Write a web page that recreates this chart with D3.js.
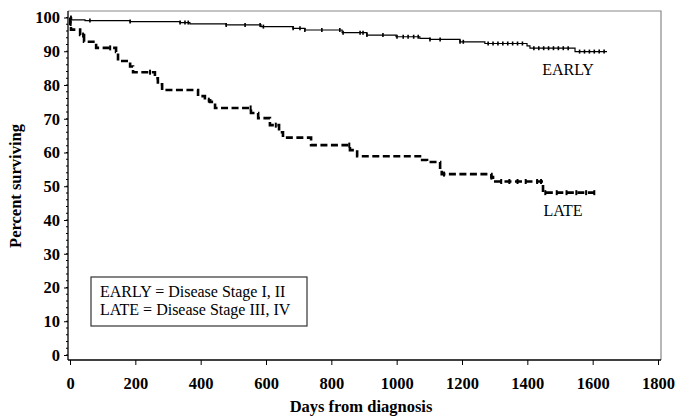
<!DOCTYPE html>
<html>
<head>
<meta charset="utf-8">
<script src="https://cdn.jsdelivr.net/npm/d3@7"></script>
<style>
body { margin: 0; background: #fff; }
svg { display: block; font-family: "Liberation Serif", "Times New Roman", serif; }
</style>
</head>
<body>
<div class="chart"></div>
<script>
// Kaplan-Meier steps (day where the step starts, percent after it)
const earlyDays = [0, 5, 46, 184, 337, 367, 478, 585, 683, 719, 833, 909, 998, 1071, 1102, 1194, 1270, 1399, 1408, 1546, 1644];
const earlySurv = [100, 99.3, 99.1, 98.8, 98.5, 98.1, 97.8, 97.3, 96.8, 96.3, 95.5, 94.8, 94.3, 93.8, 93.5, 92.8, 92.3, 91.6, 90.9, 89.9, 89.9];
const earlyCensor = [3, 61, 184, 337, 352, 362, 478, 536, 582, 592, 683, 704, 719, 771, 826, 836, 888, 897, 909, 958, 1001, 1020, 1035, 1066, 1052, 1102, 1133, 1194, 1204,
  1280, 1295, 1310, 1325, 1340, 1355, 1370, 1385, 1420, 1435, 1450, 1465, 1480, 1495, 1510, 1525, 1560, 1575, 1590, 1605, 1620, 1635];

const lateDays = [0, 1, 3, 31, 43, 80, 141, 147, 184, 193, 260, 269, 282, 392, 413, 429, 444, 554, 576, 612, 640, 652, 738, 857, 879, 1078, 1093, 1133, 1138, 1290, 1295, 1448, 1613];
const lateSurv = [100, 98.2, 96.4, 94.8, 92.8, 91, 89.8, 87.1, 85.5, 83.8, 82, 80.2, 78.5, 76.7, 75.5, 75, 73.2, 71.7, 70.2, 68.1, 66, 64.4, 62.2, 60.7, 58.9, 57.8, 57.2, 54.8, 53.6, 52.7, 51.4, 48.1, 48.1];
const lateCensor = [2, 40, 123, 245, 425, 553, 630, 855, 1145, 1290, 1320, 1345, 1370, 1395, 1430, 1442, 1455, 1490, 1520, 1550, 1580, 1605];

const xTicks = [0, 200, 400, 600, 800, 1000, 1200, 1400, 1600, 1800];
const yTicks = [0, 10, 20, 30, 40, 50, 60, 70, 80, 90, 100];
const legendLines = ["EARLY = Disease Stage I, II", "LATE = Disease Stage III, IV"];

const width = 676, height = 420;
const frame = {left: 68, top: 11, right: 661, bottom: 360};

const svg = d3.select(".chart").append("svg")
    .attr("width", width)
    .attr("height", height);

const xScale = d3.scaleLinear().domain([0, 1800]).range([70, 658]);
const yScale = d3.scaleLinear().domain([0, 100]).range([355, 17.5]);

// frame (top and right in grey)
svg.append("path")
    .attr("d", `M${frame.left},${frame.top}H${frame.right}V${frame.bottom}`)
    .attr("fill", "none")
    .attr("stroke", "#888")
    .attr("stroke-width", 1.2);

// y axis
const yAxis = d3.axisLeft(yScale)
    .tickValues(yTicks)
    .tickFormat(d3.format("d"))
    .tickSize(4)
    .tickPadding(4);
const yg = svg.append("g")
    .attr("transform", `translate(${frame.left},0)`)
    .call(yAxis);
yg.select(".domain").remove();
yg.append("line")
    .attr("x1", 0).attr("x2", 0)
    .attr("y1", frame.top).attr("y2", frame.bottom)
    .attr("stroke", "#000").attr("stroke-width", 1.3);
yg.selectAll(".tick text")
    .attr("font-family", "Liberation Serif")
    .attr("font-weight", "bold")
    .attr("font-size", 16.5);
// minor ticks
yg.selectAll(".minor")
    .data(d3.range(0, 101, 2))
    .enter()
    .append("line")
    .attr("class", "minor")
    .attr("x1", -2).attr("x2", 0)
    .attr("y1", d => yScale(d)).attr("y2", d => yScale(d))
    .attr("stroke", "#000");

// x axis
const xAxis = d3.axisBottom(xScale)
    .tickValues(xTicks)
    .tickFormat(d3.format("d"))
    .tickSize(5)
    .tickPadding(12);
const xg = svg.append("g")
    .attr("transform", `translate(0,${frame.bottom})`)
    .call(xAxis);
xg.select(".domain").remove();
xg.append("line")
    .attr("x1", frame.left).attr("x2", frame.right)
    .attr("y1", 0).attr("y2", 0)
    .attr("stroke", "#000").attr("stroke-width", 1.3);
xg.selectAll(".tick text")
    .attr("font-family", "Liberation Serif")
    .attr("font-weight", "bold")
    .attr("font-size", 16.5);

// axis titles
svg.append("text")
    .attr("x", 361)
    .attr("y", 412)
    .attr("text-anchor", "middle")
    .attr("font-weight", "bold")
    .attr("font-size", 16.5)
    .text("Days from diagnosis");

svg.append("text")
    .attr("transform", "translate(21,186)rotate(-90)")
    .attr("text-anchor", "middle")
    .attr("font-weight", "bold")
    .attr("font-size", 16.5)
    .text("Percent surviving");

// curves
const line = d3.line()
    .x(d => xScale(d[0]))
    .y(d => yScale(d[1]))
    .curve(d3.curveStepAfter);

const early = earlyDays.map((d, i) => [d, earlySurv[i]]);
const late = lateDays.map((d, i) => [d, lateSurv[i]]);

svg.append("path")
    .datum(early)
    .attr("d", line)
    .attr("fill", "none")
    .attr("stroke", "#000")
    .attr("stroke-width", 1.2);

svg.append("path")
    .datum(late)
    .attr("d", line)
    .attr("fill", "none")
    .attr("stroke", "#000")
    .attr("stroke-width", 2.6)
    .attr("stroke-dasharray", "7,3.5");

// censor marks
function survAt(days, surv, t) {
    let v = surv[0];
    for (let i = 0; i < days.length; i++) if (days[i] <= t) v = surv[i];
    return v;
}

svg.append("g").selectAll("line")
    .data(earlyCensor)
    .enter()
    .append("line")
    .attr("x1", d => xScale(d)).attr("x2", d => xScale(d))
    .attr("y1", d => yScale(survAt(earlyDays, earlySurv, d)) - 2)
    .attr("y2", d => yScale(survAt(earlyDays, earlySurv, d)) + 2)
    .attr("stroke", "#000")
    .attr("stroke-width", 1.6);

svg.append("g").selectAll("line")
    .data(lateCensor)
    .enter()
    .append("line")
    .attr("x1", d => xScale(d)).attr("x2", d => xScale(d))
    .attr("y1", d => yScale(survAt(lateDays, lateSurv, d)) - 2.5)
    .attr("y2", d => yScale(survAt(lateDays, lateSurv, d)) + 2.5)
    .attr("stroke", "#000")
    .attr("stroke-width", 2);

// curve labels
svg.append("text")
    .attr("x", 568).attr("y", 75)
    .attr("text-anchor", "middle")
    .attr("font-size", 16)
    .text("EARLY");

svg.append("text")
    .attr("x", 563).attr("y", 216)
    .attr("text-anchor", "middle")
    .attr("font-size", 16)
    .text("LATE");

// legend box
svg.append("rect")
    .attr("x", 91).attr("y", 277)
    .attr("width", 216).attr("height", 49)
    .attr("fill", "#fff")
    .attr("stroke", "#333")
    .attr("stroke-width", 1.2);

svg.append("g").selectAll("text")
    .data(legendLines)
    .enter()
    .append("text")
    .attr("x", 100)
    .attr("y", (d, i) => 297 + i * 18)
    .attr("font-size", 16)
    .text(d => d);
</script>
</body>
</html>
